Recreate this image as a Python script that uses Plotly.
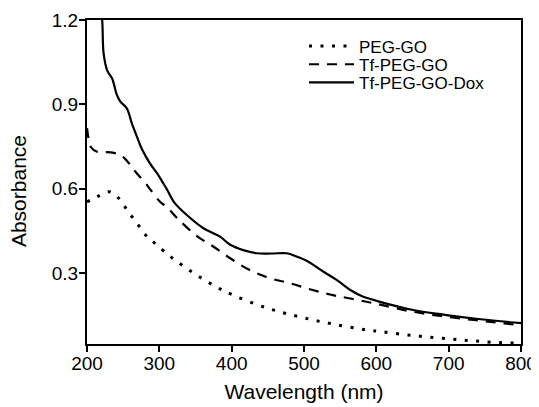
import plotly.graph_objects as go

# PEG-GO (dotted)
wl_peg = [200, 214, 230, 238, 246, 257, 269, 281, 294, 322, 370, 402, 449, 495, 540, 587, 607, 637, 667, 700, 730, 762, 800]
abs_peg = [0.553, 0.571, 0.589, 0.58, 0.559, 0.518, 0.477, 0.435, 0.405, 0.345, 0.263, 0.221, 0.175, 0.143, 0.118, 0.097, 0.091, 0.081, 0.073, 0.065, 0.059, 0.053, 0.05]

# Tf-PEG-GO (dashed)
wl_tf = [200, 202, 205, 214, 225, 237, 246, 253, 260, 267, 281, 288, 301, 311, 325, 352, 375, 398, 425, 453, 481, 508, 536, 564, 600, 650, 700, 750, 800]
abs_tf = [0.815, 0.78, 0.749, 0.731, 0.73, 0.727, 0.72, 0.705, 0.684, 0.66, 0.619, 0.595, 0.553, 0.533, 0.494, 0.431, 0.393, 0.352, 0.31, 0.281, 0.263, 0.242, 0.223, 0.209, 0.19, 0.162, 0.143, 0.128, 0.114]

# Tf-PEG-GO-Dox (solid)
wl_dox = [200, 210, 216, 221, 223, 228, 235, 241, 246, 255, 262, 269, 276, 287, 297, 304, 311, 320, 338, 361, 384, 398, 416, 435, 455, 476, 490, 506, 527, 545, 564, 582, 596, 605, 651, 697, 744, 800]
abs_dox = [1.8, 1.5, 1.33, 1.2, 1.08, 1.02, 0.99, 0.935, 0.91, 0.886, 0.832, 0.785, 0.74, 0.69, 0.654, 0.625, 0.595, 0.553, 0.506, 0.459, 0.429, 0.40, 0.381, 0.370, 0.369, 0.370, 0.358, 0.340, 0.304, 0.275, 0.239, 0.215, 0.204, 0.197, 0.168, 0.150, 0.135, 0.121]

x_ticks = [200, 300, 400, 500, 600, 700, 800]
y_ticks = [0.3, 0.6, 0.9, 1.2]

fig = go.Figure()
fig.add_trace(go.Scatter(x=wl_peg, y=abs_peg, mode="lines", name="PEG-GO", legend="legend",
                         line=dict(color="black", width=3, dash="3px,8.5px", shape="spline")))
fig.add_trace(go.Scatter(x=wl_tf, y=abs_tf, mode="lines", name="Tf-PEG-GO", legend="legend2",
                         line=dict(color="black", width=2.2, dash="10px,8px", shape="spline")))
fig.add_trace(go.Scatter(x=wl_dox, y=abs_dox, mode="lines", name="Tf-PEG-GO-Dox", legend="legend3",
                         line=dict(color="black", width=2.2, shape="spline")))

font = "Liberation Sans, Arial, sans-serif"

def leg(ypos):
    return dict(x=0.500, y=ypos, xanchor="left", yanchor="middle",
                bgcolor="rgba(0,0,0,0)", font=dict(size=17, family=font, color="black"),
                itemwidth=45)

# the page body has an 8px default margin, so the figure is 8px smaller
fig.update_layout(
    width=531, height=399,
    margin=dict(l=79, r=18, t=12, b=63),
    paper_bgcolor="white", plot_bgcolor="white",
    font=dict(family=font, size=19, color="black"),
    showlegend=True,
    legend=leg(0.918),
    legend2=leg(0.862),
    legend3=leg(0.806),
    xaxis=dict(range=[200, 800], tickvals=x_ticks, showgrid=False, zeroline=False,
               showline=True, linecolor="black", linewidth=2, mirror=True,
               ticks="outside", ticklen=6, tickwidth=2, tickcolor="black",
               tickfont=dict(size=19), automargin=False, ticklabelstandoff=-5,
               title=dict(text="Wavelength (nm)", standoff=12, font=dict(size=21))),
    yaxis=dict(range=[0.047, 1.2], tickvals=y_ticks, tickformat=".1f", showgrid=False, zeroline=False,
               showline=True, linecolor="black", linewidth=2, mirror=True,
               ticks="outside", ticklen=6, tickwidth=2, tickcolor="black",
               tickfont=dict(size=19), automargin=False, ticklabelstandoff=-3),
    annotations=[dict(text="Absorbance", textangle=-90, xref="paper", yref="paper",
                      x=-0.159, y=0.472, xanchor="center", yanchor="middle",
                      showarrow=False, font=dict(size=21, family=font, color="black"))],
)

fig.write_html("out.html")
